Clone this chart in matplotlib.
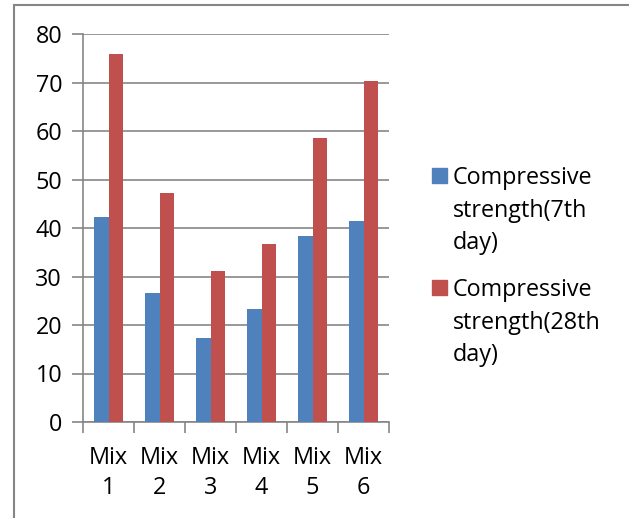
import matplotlib
matplotlib.use('Agg')
import matplotlib.pyplot as plt
from matplotlib.lines import Line2D
from matplotlib.patches import Rectangle
import numpy as np

plt.rcParams['font.family'] = ['Open Sans', 'DejaVu Sans']

mixes = ['Mix\n1', 'Mix\n2', 'Mix\n3', 'Mix\n4', 'Mix\n5', 'Mix\n6']
day7 = [42.2, 26.5, 17.4, 23.4, 38.3, 41.4]
day28 = [75.9, 47.3, 31.1, 36.6, 58.5, 70.4]
series_labels = ['Compressive\nstrength(7th\nday)', 'Compressive\nstrength(28th\nday)']
colors = ['#4F81BD', '#C0504D']
grey = '#868686'
fs = 16.8

fig = plt.figure(figsize=(6.29, 5.18), dpi=100)
ax = fig.add_axes([83/629, 1-422/518, 306/629, 388/518])

x = np.arange(len(mixes))
w = 0.285
ax.bar(x - w/2, day7, w, color=colors[0], zorder=3)
ax.bar(x + w/2, day28, w, color=colors[1], zorder=3)

ax.set_xlim(-0.5, len(mixes) - 0.5)
ax.set_ylim(0, 80)
ax.set_yticks(range(0, 81, 10))
ax.yaxis.grid(True, color=grey, linewidth=1.2, zorder=0)
ax.tick_params(axis='y', length=8, width=1.2, color=grey, labelsize=fs, pad=7)

ax.set_xticks(x)
ax.set_xticklabels(mixes, fontsize=fs, linespacing=1.38)
ax.set_xticks(np.arange(-0.5, len(mixes)), minor=True)
ax.tick_params(axis='x', which='major', length=0, pad=17)
ax.tick_params(axis='x', which='minor', length=8, width=1.2, color=grey)

for s in ['top', 'right']:
    ax.spines[s].set_visible(False)
for s in ['left', 'bottom']:
    ax.spines[s].set_color(grey)
    ax.spines[s].set_linewidth(1.2)

# legend drawn by hand so the square sits on the first text line
leg_y = [176, 288]
for lab, col, yy in zip(series_labels, colors, leg_y):
    fig.add_artist(Rectangle((432/629, 1-(yy+7)/518), 15/629, 15/518,
                             transform=fig.transFigure, color=col))
    fig.text(453/629, 1-(yy-10)/518, lab, fontsize=fs, va='top', ha='left',
             linespacing=1.48)

# outer frame (top and left only visible)
fig.add_artist(Line2D([13.5/629, 13.5/629], [0, 1-5/518], color=grey, lw=1.5,
                      transform=fig.transFigure))
fig.add_artist(Line2D([13.5/629, 1], [1-5/518, 1-5/518], color=grey, lw=1.5,
                      transform=fig.transFigure))

fig.savefig('out.png', dpi=100)
